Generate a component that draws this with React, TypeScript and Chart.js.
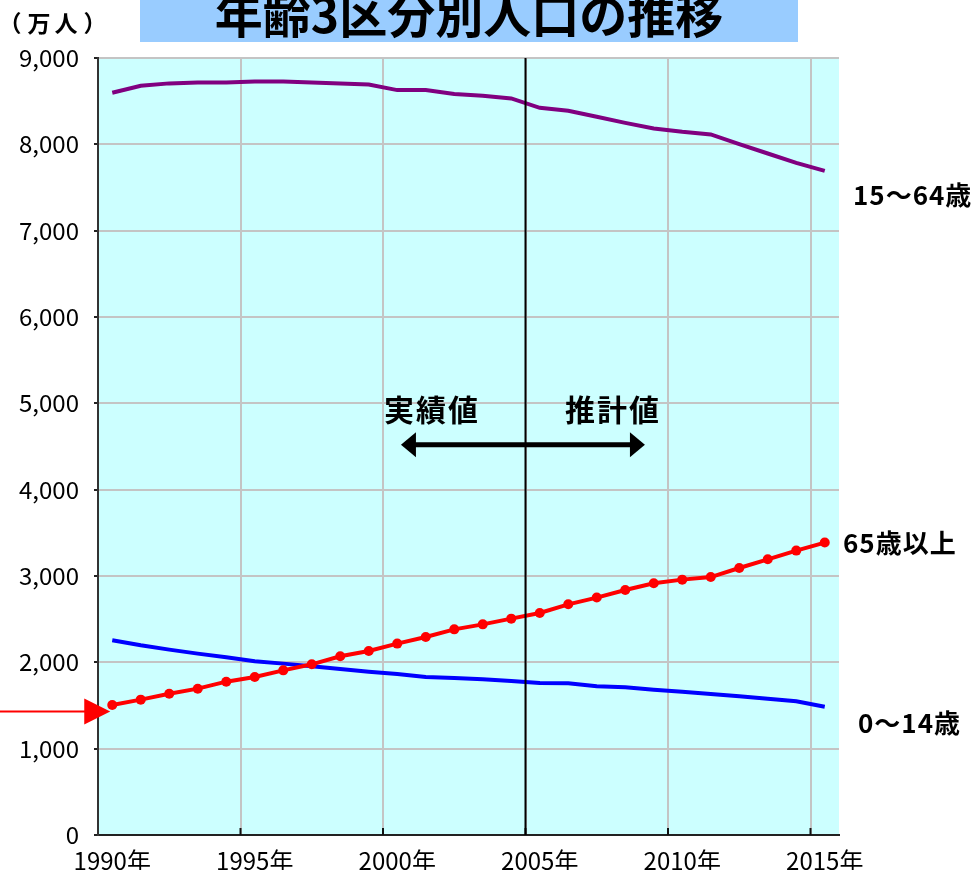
import React, { useEffect, useRef } from 'react';
import { Chart, registerables } from 'chart.js';

Chart.register(...registerables);

// ---- data (万人) ----
const years = [
  1990, 1991, 1992, 1993, 1994, 1995, 1996, 1997, 1998, 1999,
  2000, 2001, 2002, 2003, 2004, 2005, 2006, 2007, 2008, 2009,
  2010, 2011, 2012, 2013, 2014, 2015,
];
const xLabels = years.map((y) => `${y}年`);

const age65plus = [
  1505, 1568, 1637, 1695, 1776, 1830, 1907, 1977, 2070, 2131,
  2217, 2293, 2382, 2440, 2506, 2571, 2672, 2750, 2838, 2915,
  2958, 2988, 3093, 3193, 3294, 3387,
];
const age0to14 = [
  2255, 2197, 2147, 2101, 2058, 2012, 1985, 1954, 1923, 1892,
  1865, 1830, 1818, 1803, 1783, 1760, 1757, 1722, 1710, 1683,
  1660, 1633, 1606, 1579, 1548, 1486,
];
const age15to64 = [
  8597, 8678, 8706, 8717, 8717, 8729, 8729, 8717, 8706, 8694,
  8628, 8628, 8582, 8562, 8532, 8423, 8389, 8319, 8249, 8184,
  8145, 8115, 8002, 7894, 7786, 7693,
];

const seriesNames = ['65歳以上', '0〜14歳', '15〜64歳'];
const yTickValues = [0, 1000, 2000, 3000, 4000, 5000, 6000, 7000, 8000, 9000];

const titleText = '年齢3区分別人口の推移';
const unitText = ['（', '万', '人', '）'];
const pastText = '実績値';
const futureText = '推計値';
const boundaryYear = 2005;

const FONT = '"Noto Sans CJK JP", "Noto Sans", sans-serif';

const overlayPlugin = {
  id: 'overlay',
  beforeDraw(chart: any) {
    const { ctx, chartArea } = chart;
    ctx.save();
    ctx.fillStyle = '#CCFFFF';
    ctx.fillRect(chartArea.left, chartArea.top, chartArea.right - chartArea.left, chartArea.bottom - chartArea.top);
    ctx.restore();
  },
  afterDraw(chart: any) {
    const { ctx, chartArea } = chart;
    const xs = chart.scales.x;
    const ys = chart.scales.y;
    ctx.save();

    // title box
    ctx.fillStyle = '#99CCFF';
    ctx.fillRect(140, 0, 658, 42);
    ctx.fillStyle = '#000';
    ctx.font = `bold 48px ${FONT}`;
    ctx.textAlign = 'center';
    ctx.textBaseline = 'middle';
    ctx.fillText(titleText, 469, 15);

    // unit
    ctx.font = `bold 23px ${FONT}`;
    const unitX = [10, 39, 66, 95];
    unitText.forEach((ch, i) => ctx.fillText(ch, unitX[i], 23));

    // inside x tick marks
    ctx.strokeStyle = '#111';
    ctx.lineWidth = 2;
    for (let i = 5; i < years.length; i += 5) {
      const px = xs.getPixelForValue(i - 0.5);
      ctx.beginPath();
      ctx.moveTo(px, chartArea.bottom);
      ctx.lineTo(px, chartArea.bottom - 7);
      ctx.stroke();
    }

    // boundary vertical line
    const bIdx = years.indexOf(boundaryYear) - 0.5;
    const bx = xs.getPixelForValue(bIdx);
    ctx.strokeStyle = '#000';
    ctx.lineWidth = 2;
    ctx.beginPath();
    ctx.moveTo(bx, chartArea.top);
    ctx.lineTo(bx, chartArea.bottom);
    ctx.stroke();

    // double arrow
    const ay = ys.getPixelForValue(4520);
    const ax1 = xs.getPixelForValue(10.13);
    const ax2 = xs.getPixelForValue(18.69);
    const head = 15;
    const hh = 12.5;
    ctx.lineWidth = 5;
    ctx.beginPath();
    ctx.moveTo(ax1 + head - 2, ay);
    ctx.lineTo(ax2 - head + 2, ay);
    ctx.stroke();
    ctx.fillStyle = '#000';
    ctx.beginPath();
    ctx.moveTo(ax1, ay);
    ctx.lineTo(ax1 + head, ay - hh);
    ctx.lineTo(ax1 + head, ay + hh);
    ctx.closePath();
    ctx.fill();
    ctx.beginPath();
    ctx.moveTo(ax2, ay);
    ctx.lineTo(ax2 - head, ay - hh);
    ctx.lineTo(ax2 - head, ay + hh);
    ctx.closePath();
    ctx.fill();

    const ty = ys.getPixelForValue(4932);
    ctx.font = `bold 30px ${FONT}`;
    (ctx as any).letterSpacing = '2px';
    ctx.textAlign = 'center';
    ctx.fillText(pastText, xs.getPixelForValue(11.22), ty);
    ctx.fillText(futureText, xs.getPixelForValue(17.57), ty);

    // red pointer arrow
    const ry = ys.getPixelForValue(1430);
    const rTip = xs.getPixelForValue(0) - 2;
    ctx.strokeStyle = '#FF0000';
    ctx.fillStyle = '#FF0000';
    ctx.lineWidth = 2;
    ctx.beginPath();
    ctx.moveTo(0, ry);
    ctx.lineTo(rTip - 24, ry);
    ctx.stroke();
    ctx.beginPath();
    ctx.moveTo(rTip, ry);
    ctx.lineTo(rTip - 26, ry - 13);
    ctx.lineTo(rTip - 26, ry + 13);
    ctx.closePath();
    ctx.fill();

    // series labels
    ctx.fillStyle = '#000';
    ctx.font = `bold 26px ${FONT}`;
    (ctx as any).letterSpacing = '1px';
    ctx.textAlign = 'left';
    ctx.fillText(seriesNames[2], chartArea.right + 14, ys.getPixelForValue(7411));
    ctx.fillText(seriesNames[0], chartArea.right + 4, ys.getPixelForValue(3380));
    ctx.fillText(seriesNames[1], chartArea.right + 19, ys.getPixelForValue(1293));

    ctx.restore();
  },
};

export default function App() {
  const canvasRef = useRef<HTMLCanvasElement | null>(null);

  useEffect(() => {
    document.body.style.margin = '0';
    const canvas = canvasRef.current;
    if (!canvas) return;
    const chart = new Chart(canvas, {
      type: 'line',
      data: {
        labels: xLabels,
        datasets: [
          {
            label: seriesNames[0],
            data: age65plus,
            borderColor: '#FF0000',
            backgroundColor: '#FF0000',
            borderWidth: 4,
            pointRadius: 5,
            pointBorderWidth: 0,
            pointBackgroundColor: '#FF0000',
            tension: 0,
          },
          {
            label: seriesNames[1],
            data: age0to14,
            borderColor: '#0000FF',
            borderWidth: 4,
            pointRadius: 0,
            tension: 0,
          },
          {
            label: seriesNames[2],
            data: age15to64,
            borderColor: '#800080',
            borderWidth: 4,
            pointRadius: 0,
            tension: 0,
          },
        ],
      },
      options: {
        animation: false,
        responsive: true,
        maintainAspectRatio: false,
        layout: { padding: { top: 58, right: 135, left: 0, bottom: 0 } },
        plugins: {
          legend: { display: false },
          tooltip: { enabled: false },
          title: { display: false },
        },
        scales: {
          x: {
            type: 'category',
            offset: true,
            grid: {
              offset: true,
              drawTicks: false,
              lineWidth: 2,
              color: (c: any) => (c.index % 5 === 0 && c.index > 0 ? '#c4c4c4' : 'rgba(0,0,0,0)'),
            },
            border: { display: true, color: '#222', width: 2 },
            ticks: {
              autoSkip: false,
              maxRotation: 0,
              padding: 11,
              color: '#000',
              font: { family: FONT, size: 24 },
              callback: (_v: any, i: number) => (i % 5 === 0 ? xLabels[i] : ''),
            },
            afterFit: (s: any) => {
              s.height = 35;
            },
          },
          y: {
            min: yTickValues[0],
            max: yTickValues[yTickValues.length - 1],
            afterBuildTicks: (s: any) => {
              s.ticks = yTickValues.map((v) => ({ value: v }));
            },
            grid: { color: '#c4c4c4', lineWidth: 2, tickLength: 4, tickColor: '#222' },
            border: { display: true, color: '#333', width: 2 },
            ticks: {
              padding: 15,
              color: '#000',
              font: { family: FONT, size: 24 },
              callback: (v: any) => Number(v).toLocaleString('en-US'),
            },
            afterFit: (s: any) => {
              s.width = 98;
            },
          },
        },
      },
      plugins: [overlayPlugin],
    } as any);
    return () => chart.destroy();
  }, []);

  return (
    <div style={{ width: 974, height: 870, position: 'relative' }}>
      <canvas ref={canvasRef} />
    </div>
  );
}
